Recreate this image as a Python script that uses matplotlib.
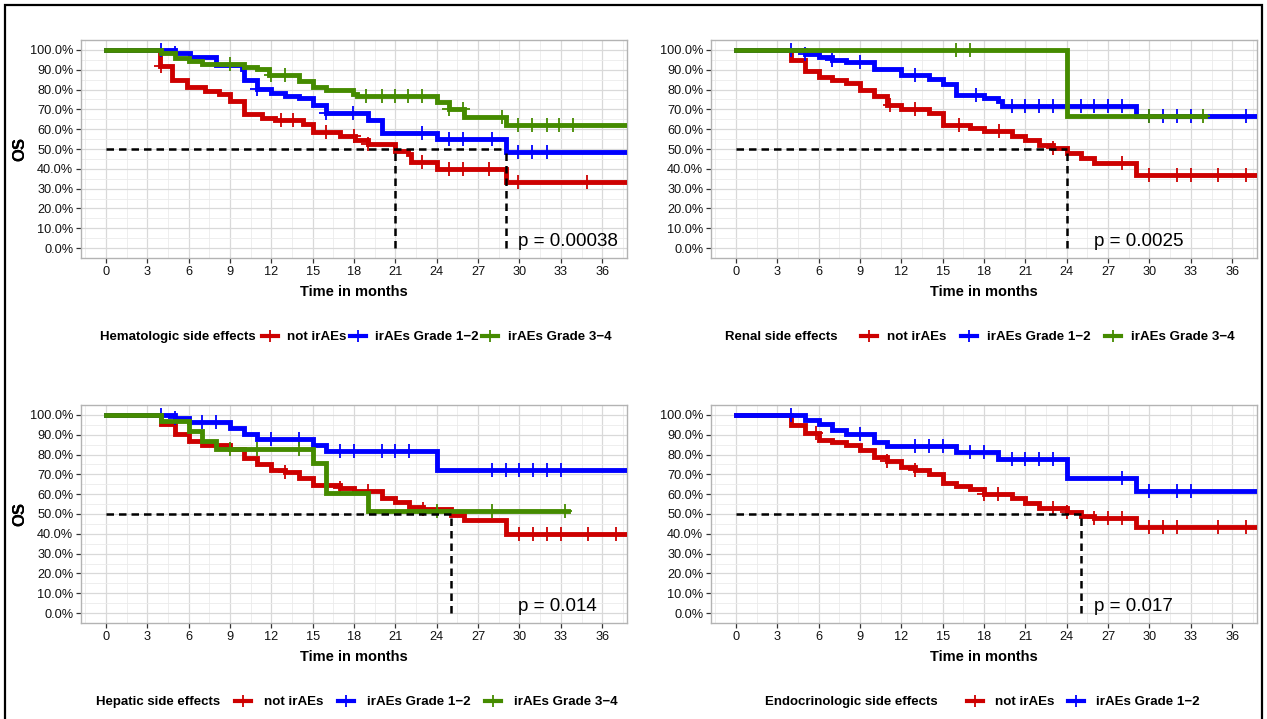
import numpy as np
import matplotlib
matplotlib.use('Agg')
import matplotlib.pyplot as plt
from matplotlib.lines import Line2D
from matplotlib.patches import Rectangle
from matplotlib.ticker import MultipleLocator, FuncFormatter

plt.rcParams['font.family'] = ['Liberation Sans', 'DejaVu Sans']

RED, BLUE, GREEN = '#CD0000', '#0000FF', '#458B00'
group_labels = ['not irAEs', 'irAEs Grade 1\u22122', 'irAEs Grade 3\u22124']
x_ticks = list(range(0, 37, 3))

# ---------------- Hematologic ----------------
hem_red_t = [3.9, 4.8, 5.9, 7.2, 8.2, 9.0, 10.0, 11.3, 12.3, 14.3, 15.0, 17.0, 18.1, 19.0, 21.0, 21.9, 22.1, 24.0, 29.0]
hem_red_s = [0.92, 0.85, 0.815, 0.795, 0.78, 0.74, 0.675, 0.655, 0.645, 0.625, 0.585, 0.565, 0.545, 0.525, 0.49, 0.475, 0.435, 0.40, 0.335]
hem_red_c = [4.0, 12.7, 13.6, 16.0, 18.0, 19.0, 22.9, 24.9, 25.9, 27.8, 29.9, 34.9]
hem_blue_t = [5.0, 6.1, 8.0, 9.9, 10.0, 11.0, 12.0, 13.0, 14.0, 15.0, 16.0, 19.0, 20.0, 24.0, 29.0]
hem_blue_s = [0.985, 0.965, 0.925, 0.905, 0.85, 0.805, 0.783, 0.768, 0.755, 0.72, 0.68, 0.645, 0.582, 0.55, 0.485]
hem_blue_c = [4.0, 5.0, 11.0, 16.0, 17.9, 22.9, 24.9, 25.9, 28.0, 29.9, 30.9, 32.0]
hem_green_t = [4.0, 5.0, 6.0, 7.0, 10.0, 11.0, 11.8, 14.0, 15.0, 16.0, 17.9, 18.2, 24.0, 24.9, 26.0, 29.0]
hem_green_s = [0.985, 0.96, 0.945, 0.93, 0.915, 0.905, 0.875, 0.845, 0.815, 0.80, 0.78, 0.765, 0.735, 0.70, 0.66, 0.62]
hem_green_c = [9.0, 12.0, 13.0, 18.9, 20.0, 21.0, 21.9, 22.9, 24.9, 25.9, 28.7, 29.9, 30.9, 32.0, 32.9, 33.9]
hem_ends = [38.0, 38.0, 38.0]
hem_medians = [21.0, 29.0]
hem_p = 'p = 0.00038'

# ---------------- Renal ----------------
ren_red_t = [4, 5, 6, 7, 8, 9, 10, 11, 12, 14, 15, 17, 18, 20, 21, 22, 23, 24, 25, 26, 29]
ren_red_s = [0.95, 0.895, 0.865, 0.85, 0.835, 0.80, 0.765, 0.72, 0.70, 0.68, 0.62, 0.605, 0.59, 0.565, 0.545, 0.52, 0.505, 0.48, 0.455, 0.43, 0.37]
ren_red_c = [11.2, 13.0, 16.2, 19.1, 23.0, 28.0, 30.0, 32.0, 33.0, 35.0, 37.0]
ren_blue_t = [5, 6, 7, 8, 10, 12, 14, 15, 16, 18, 19, 19.3, 29]
ren_blue_s = [0.98, 0.965, 0.95, 0.94, 0.905, 0.875, 0.855, 0.83, 0.77, 0.755, 0.74, 0.715, 0.665]
ren_blue_c = [4, 5, 7, 9, 13, 17.4, 20, 21, 22, 23, 24, 25, 26, 27, 28, 30, 31, 32, 33, 37]
ren_green_t = [24.0]
ren_green_s = [0.665]
ren_green_c = [16.0, 17.0, 30.0, 33.9]
ren_ends = [38.0, 38.0, 34.0]
ren_medians = [24.0]
ren_p = 'p = 0.0025'

# ---------------- Hepatic ----------------
hep_red_t = [4, 5, 6, 7, 9, 10, 11, 12, 13, 14, 15, 17, 18, 20, 21, 22, 23, 25, 26, 29]
hep_red_s = [0.955, 0.905, 0.87, 0.85, 0.83, 0.785, 0.75, 0.72, 0.71, 0.68, 0.645, 0.63, 0.615, 0.58, 0.56, 0.535, 0.525, 0.495, 0.47, 0.40]
hep_red_c = [13.0, 17.0, 19.0, 23.0, 30.0, 31.0, 32.0, 33.0, 35.0, 37.0]
hep_blue_t = [5, 6, 9, 10, 11, 15, 16, 24]
hep_blue_s = [0.985, 0.965, 0.935, 0.905, 0.88, 0.85, 0.82, 0.72]
hep_blue_c = [4, 5, 7, 8, 12, 14, 17, 18, 20, 21, 22, 28, 29, 30, 31, 32, 33]
hep_green_t = [4, 6, 7, 8, 15, 16, 19]
hep_green_s = [0.97, 0.92, 0.87, 0.83, 0.755, 0.605, 0.515]
hep_green_c = [9.0, 11.0, 14.0, 24.0, 28.0, 33.3]
hep_ends = [38.0, 38.0, 33.5]
hep_medians = [25.0]
hep_p = 'p = 0.014'

# ---------------- Endocrinologic ----------------
end_red_t = [4, 5, 6, 7, 8, 9, 10, 11, 12, 13, 14, 15, 16, 17, 18, 20, 21, 22, 24, 25, 26, 29]
end_red_s = [0.95, 0.91, 0.875, 0.865, 0.85, 0.825, 0.79, 0.765, 0.735, 0.72, 0.70, 0.655, 0.64, 0.625, 0.60, 0.58, 0.555, 0.53, 0.51, 0.49, 0.48, 0.435]
end_red_c = [5.8, 11.0, 13.0, 18.0, 19.0, 23.0, 24.0, 26.0, 27.0, 28.0, 30.0, 31.0, 32.0, 35.0, 37.0]
end_blue_t = [5, 6, 7, 8, 10, 11, 16, 19, 24, 29]
end_blue_s = [0.975, 0.955, 0.925, 0.905, 0.865, 0.845, 0.815, 0.78, 0.68, 0.615]
end_blue_c = [4, 9, 13, 14, 15, 17, 18, 20, 21, 22, 23, 28, 30, 32, 33]
end_ends = [38.0, 38.0]
end_medians = [25.0]
end_p = 'p = 0.017'

panels = [
    dict(title='Hematologic side effects', curves=[(hem_red_t, hem_red_s, hem_red_c), (hem_blue_t, hem_blue_s, hem_blue_c), (hem_green_t, hem_green_s, hem_green_c)],
         ends=hem_ends, medians=hem_medians, p=hem_p, px=(81, 40), ptx=29.9, leg=(100, 262), sp=(0.7, 0.25)),
    dict(title='Renal side effects', curves=[(ren_red_t, ren_red_s, ren_red_c), (ren_blue_t, ren_blue_s, ren_blue_c), (ren_green_t, ren_green_s, ren_green_c)],
         ends=ren_ends, medians=ren_medians, p=ren_p, px=(711, 40), ptx=26.0, leg=(725, 861), sp=(0.75, 1.1)),
    dict(title='Hepatic side effects', curves=[(hep_red_t, hep_red_s, hep_red_c), (hep_blue_t, hep_blue_s, hep_blue_c), (hep_green_t, hep_green_s, hep_green_c)],
         ends=hep_ends, medians=hep_medians, p=hep_p, px=(81, 405), ptx=29.9, leg=(96, 235), sp=(1.0, 1.05)),
    dict(title='Endocrinologic side effects', curves=[(end_red_t, end_red_s, end_red_c), (end_blue_t, end_blue_s, end_blue_c)],
         ends=end_ends, medians=end_medians, p=end_p, px=(711, 405), ptx=26.0, leg=(765, 967), sp=(0.9, 1.0)),
]
colors = [RED, BLUE, GREEN]

W, H = 1267, 719
fig = plt.figure(figsize=(W / 100, H / 100), dpi=100)
AW, AH = 546, 218


def surv_at(times, surv, t):
    idx = np.searchsorted(np.asarray(times, float), t, side='right')
    return 1.0 if idx == 0 else surv[idx - 1]


for p in panels:
    x0, y0 = p['px']
    ax = fig.add_axes([x0 / W, 1 - (y0 + AH) / H, AW / W, AH / H])
    ax.set_xlim(-1.8, 37.8)
    ax.set_ylim(-0.05, 1.05)
    ax.xaxis.set_major_locator(MultipleLocator(3))
    ax.xaxis.set_minor_locator(MultipleLocator(1.5))
    ax.yaxis.set_major_locator(MultipleLocator(0.1))
    ax.yaxis.set_minor_locator(MultipleLocator(0.05))
    ax.yaxis.set_major_formatter(FuncFormatter(lambda v, pos: f'{v * 100:.1f}%'))
    ax.set_xticks(x_ticks)
    ax.grid(which='major', color='#D9D9D9', lw=0.9)
    ax.grid(which='minor', color='#EBEBEB', lw=0.6)
    ax.set_axisbelow(True)
    for s in ax.spines.values():
        s.set_color('#B3B3B3')
        s.set_linewidth(1.0)
    ax.tick_params(which='major', length=3.5, width=0.9, color='#333333', labelsize=9.2, labelcolor='#111111', pad=2)
    ax.tick_params(which='minor', length=0)

    for i, (t, s, c) in enumerate(p['curves']):
        xs = [0.0] + list(t) + [p['ends'][i]]
        ys = [1.0] + list(s) + [s[-1]]
        ax.step(xs, ys, where='post', color=colors[i], lw=3.5, solid_joinstyle='miter', zorder=3 + i)
        cy = [surv_at(t, s, ci) for ci in c]
        ax.plot(c, cy, ls='none', marker='+', ms=9.5, mew=1.3, color=colors[i], zorder=3 + i)

    med = p['medians']
    ax.plot([0, max(med)], [0.5, 0.5], color='black', lw=1.8, ls=(0, (3, 2)), zorder=10)
    for m in med:
        ax.plot([m, m], [0, 0.5], color='black', lw=1.8, ls=(0, (3, 2)), zorder=10)

    ax.text(p['ptx'], 0.035, p['p'], ha='left', va='center', fontsize=13.5, color='black', zorder=11)
    ax.set_xlabel('Time in months', fontsize=10.5, fontweight='bold', labelpad=5)
    ax.set_ylabel('OS', fontsize=12, fontweight='bold')
    ax.yaxis.set_label_coords((27 - x0) / AW, 0.5)

    # legend
    ly = 1 - (y0 + 297) / H
    fig.text(p['leg'][0] / W, ly, p['title'], ha='left', va='center', fontsize=9.5, fontweight='bold')
    handles = [Line2D([], [], color=colors[i], lw=3, marker='+', ms=8, mew=1.3) for i in range(len(p['curves']))]
    fig.legend(handles, group_labels[:len(p['curves'])], loc='center left', bbox_to_anchor=(p['leg'][1] / W, ly),
               ncol=len(handles), frameon=False, borderpad=0, borderaxespad=0, handlelength=1.2,
               handletextpad=p['sp'][0], columnspacing=p['sp'][1], numpoints=1, prop={'size': 9.6, 'weight': 'bold'})

fig.patches.append(Rectangle((5 / W, -0.02), (1262 - 5) / W, 1.02 - 5 / H, transform=fig.transFigure,
                             fill=False, edgecolor='black', lw=1.6))

fig.savefig('out.png', dpi=100, facecolor='white')
